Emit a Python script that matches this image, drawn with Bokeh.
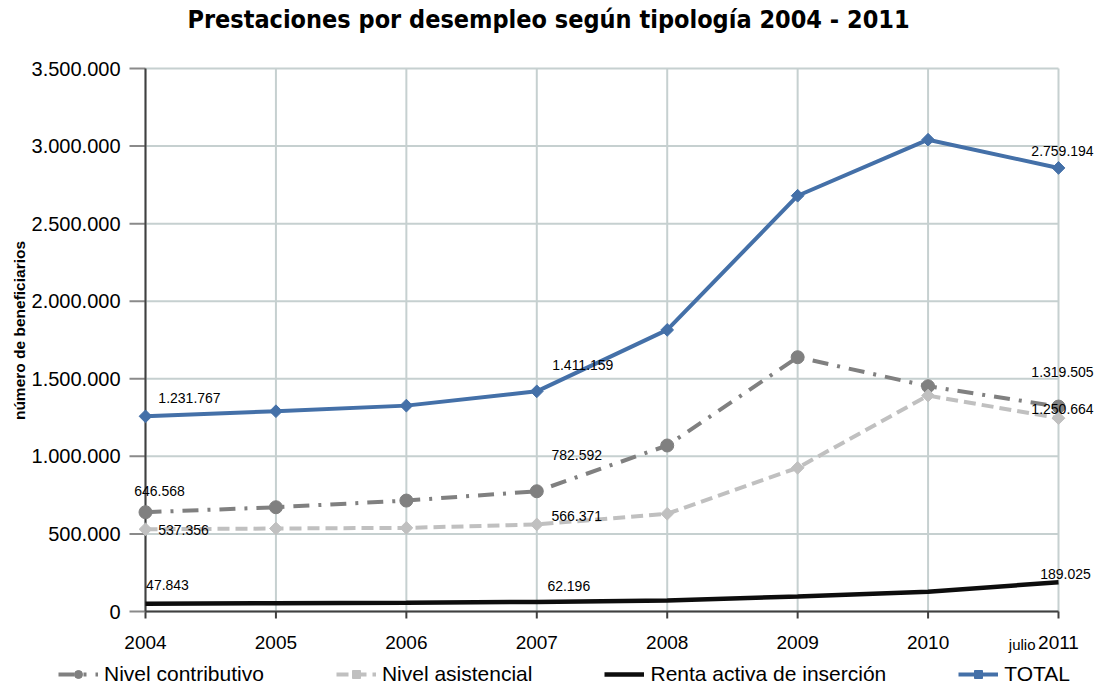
import math
from bokeh.plotting import figure
from bokeh.models import Range1d, Legend, LegendItem
from bokeh.embed import file_html
from bokeh.resources import INLINE
from bokeh.core.properties import value

# ---------------- data ----------------
years = [2004, 2005, 2006, 2007, 2008, 2009, 2010, 2011]
year_labels = ["2004", "2005", "2006", "2007", "2008", "2009", "2010", "2011"]
contributivo = [640000, 672000, 715000, 775000, 1070000, 1639000, 1452000, 1321000]
asistencial = [530000, 535000, 539000, 561000, 630000, 926000, 1392000, 1246000]
renta = [50000, 53000, 56000, 62000, 71000, 97000, 127000, 189000]
total = [1258000, 1291000, 1327000, 1419000, 1815000, 2680000, 3041000, 2859000]

y_ticks = [0, 500000, 1000000, 1500000, 2000000, 2500000, 3000000, 3500000]
y_tick_labels = ["0", "500.000", "1.000.000", "1.500.000", "2.000.000",
                 "2.500.000", "3.000.000", "3.500.000"]

label_series = ["total", "total", "total",
                "contributivo", "contributivo", "contributivo",
                "asistencial", "asistencial", "asistencial",
                "renta", "renta", "renta"]
label_years = [2004, 2007, 2011, 2004, 2007, 2011, 2004, 2007, 2011, 2004, 2007, 2011]
label_texts = ["1.231.767", "1.411.159", "2.759.194",
               "646.568", "782.592", "1.319.505",
               "537.356", "566.371", "1.250.664",
               "47.843", "62.196", "189.025"]
# label placement offsets in screen pixels (styling only; dy positive = down)
label_dx = [44, 46, 4, 14, 40, 4, 38, 40, 4, 22, 32, 7]
label_dy = [-18, -26, -17, -21, -36, -35, 1, -8, -9, -19, -16, -8]

series = {"total": total, "contributivo": contributivo,
          "asistencial": asistencial, "renta": renta}

TITLE = "Prestaciones por desempleo según tipología 2004 - 2011"
YLABEL = "número de beneficiarios"
LEGEND_LABELS = ["Nivel contributivo", "Nivel asistencial",
                 "Renta activa de inserción", "TOTAL"]

FONT = "Liberation Sans"
NARROW = "'Liberation Sans Narrow', 'DejaVu Sans Condensed', 'Liberation Sans', sans-serif"

# ---------------- layout (pixels) ----------------
W, H = 1096, 687
PLOT_L, PLOT_R, PLOT_T, PLOT_B = 145, 1058, 68, 611
x0, x1 = years[0], years[-1]
y0, y1 = y_ticks[0], y_ticks[-1]
ppx = (PLOT_R - PLOT_L) / (x1 - x0)       # pixels per year
ppy = (PLOT_B - PLOT_T) / (y1 - y0)       # pixels per unit


def dx(px):
    return px / ppx


def dy(px):
    return px / ppy


p = figure(width=W, height=H, output_backend="svg", toolbar_location=None,
           x_axis_type=None, y_axis_type=None,
           x_range=Range1d(x0 - dx(PLOT_L), x0 + dx(W - PLOT_L)),
           y_range=Range1d(y0 - dy(H - PLOT_B), y0 + dy(PLOT_B)),
           min_border=0)
p.outline_line_color = None
p.background_fill_color = "white"
p.border_fill_color = "white"
p.grid.visible = False

GRID = "#c6d0d0"
AXIS = "#404040"
TICK = "#8a8a8a"

# grid lines
p.segment(x0=years, y0=[y0] * len(years), x1=years, y1=[y1] * len(years),
          line_color=GRID, line_width=2)
p.segment(x0=[x0] * len(y_ticks), y0=y_ticks, x1=[x1] * len(y_ticks), y1=y_ticks,
          line_color=GRID, line_width=2)

# axes lines and ticks
p.segment(x0=years, y0=[y0] * len(years), x1=years, y1=[y0 - dy(7)] * len(years),
          line_color=AXIS, line_width=2)
p.segment(x0=[x0 - dx(16)] * len(y_ticks), y0=y_ticks, x1=[x0] * len(y_ticks), y1=y_ticks,
          line_color=TICK, line_width=2)
p.segment(x0=[x0], y0=[y0], x1=[x1], y1=[y0], line_color=AXIS, line_width=2)
p.segment(x0=[x0], y0=[y0], x1=[x0], y1=[y1], line_color=AXIS, line_width=2)

# tick labels
p.text(x=years, y=[y0] * len(years), text=year_labels, y_offset=31,
       text_align="center", text_baseline="middle",
       text_font=value(FONT), text_font_size="19px", text_color="black")
p.text(x=[x1], y=[y0], text=["julio"], x_offset=-23, y_offset=32.5,
       text_align="right", text_baseline="middle",
       text_font=value(FONT), text_font_size="15px", text_color="black")
p.text(x=[x0] * len(y_ticks), y=y_ticks, text=y_tick_labels, x_offset=-25,
       text_align="right", text_baseline="middle",
       text_font=value(FONT), text_font_size="20px", text_color="black")

# y axis title
p.text(x=[x0], y=[y0 + dy(PLOT_B - 330)], text=[YLABEL], x_offset=-126,
       angle=math.pi / 2, text_align="center", text_baseline="middle",
       text_font=value(FONT), text_font_style="bold", text_font_size="15.5px",
       text_color="black")

# chart title
p.text(x=[x0 + dx(548 - PLOT_L)], y=[y0 + dy(PLOT_B - 19)], text=[TITLE],
       text_align="center", text_baseline="middle",
       text_font=value(NARROW), text_font_style="bold", text_font_size="25px",
       text_color="black")

# series
l_c = p.line(years, contributivo, line_color="#808080", line_width=4, line_dash="16 9 3 9")
s_c = p.scatter(years, contributivo, marker="circle", size=13, fill_color="#808080",
                line_color="#808080")
l_a = p.line(years, asistencial, line_color="#c0c0c0", line_width=4, line_dash="12 6")
s_a = p.scatter(years, asistencial, marker="square", angle=math.pi / 4, size=9,
                fill_color="#c0c0c0", line_color="#c0c0c0")
l_r = p.line(years, renta, line_color="#0d0d0d", line_width=4.5)
l_t = p.line(years, total, line_color="#4470a8", line_width=4)
s_t = p.scatter(years, total, marker="square", angle=math.pi / 4, size=9,
                fill_color="#4470a8", line_color="#4470a8")

# data labels
p.text(x=label_years,
       y=[series[s][years.index(yr)] for s, yr in zip(label_series, label_years)],
       text=label_texts, x_offset=label_dx, y_offset=label_dy,
       text_align="center", text_baseline="middle",
       text_font=value(FONT), text_font_size="14px", text_color="black")

# legend
legend = Legend(items=[
    LegendItem(label=LEGEND_LABELS[0], renderers=[l_c, s_c]),
    LegendItem(label=LEGEND_LABELS[1], renderers=[l_a, s_a]),
    LegendItem(label=LEGEND_LABELS[2], renderers=[l_r]),
    LegendItem(label=LEGEND_LABELS[3], renderers=[l_t, s_t]),
], orientation="horizontal", location=(58, 1),
    glyph_width=40, glyph_height=20, label_height=20, label_standoff=6,
    spacing=72, padding=0, margin=0, border_line_color=None,
    background_fill_alpha=0, label_text_font=FONT, label_text_font_size="21px",
    label_text_color="black")
p.add_layout(legend)

open("out.html", "w").write(file_html(p, INLINE))
